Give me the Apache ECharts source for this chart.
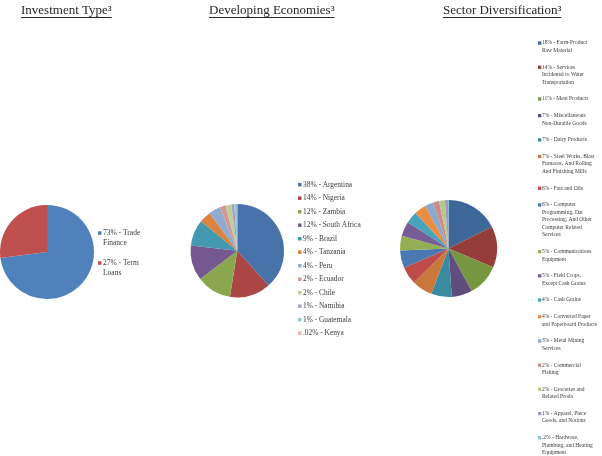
<!DOCTYPE html>
<html><head><meta charset="utf-8">
<script src="https://cdn.jsdelivr.net/npm/echarts@6/dist/echarts.min.js"></script>
<style>html,body{margin:0;padding:0;background:#fff}#c{width:602px;height:456px}</style>
</head><body><div id="c"></div>
<script>
// ---- data ----
const titles = ['Investment Type\u00B3', 'Developing Economies\u00B3', 'Sector Diversification\u00B3'];

const investNames = ['Trade\nFinance', 'Term\nLoans'];
const investPct = ['73%', '27%'];
const investValues = [73, 27];

const econNames = ['Argentina', 'Nigeria', 'Zambia', 'South Africa', 'Brazil', 'Tanzania', 'Peru', 'Ecuador', 'Chile', 'Namibia', 'Guatemala', 'Kenya'];
const econPct = ['38%', '14%', '12%', '12%', '9%', '4%', '4%', '2%', '2%', '1%', '1%', '.02%'];
const econValues = [38, 14, 12, 12, 9, 4, 4, 2, 2, 1, 1, 0.02];

const sectorNames = [
  'Farm-Product\nRaw Material',
  'Services\nIncidental to Water\nTransportation',
  'Meat Products',
  'Miscellaneous\nNon-Durable Goods',
  'Dairy Products',
  'Steel Works, Blast\nFurnaces, And Rolling\nAnd Finishing Mills',
  'Fats and Oils',
  'Computer\nProgramming, Dat\nProcessing, And Other\nComputer Related\nServices',
  'Communications\nEquipment',
  'Field Crops,\nExcept Cash Grains',
  'Cash Grains',
  'Converted Paper\nand Paperboard Products',
  'Metal Mining\nServices',
  'Commercial\nFishing',
  'Groceries and\nRelated Proda',
  'Apparel, Piece\nGoods, and Notions',
  'Hardware,\nPlumbing, and Heating\nEquipment'
];
const sectorPct = ['18%', '14%', '11%', '7%', '7%', '7%', '6%', '6%', '5%', '5%', '4%', '4%', '3%', '2%', '2%', '1%', '.2%'];
const sectorValues = [18, 14, 11, 7, 7, 7, 6, 6, 5, 5, 4, 4, 3, 2, 2, 1, 0.2];

// ---- styles ----
const investColors = ['#4F81BD', '#C0504D'];
const econColors = ['#4773AA', '#AA4744', '#8AA74F', '#73598F', '#4399AF', '#DB843D', '#93AAD0', '#D39795', '#BCD098', '#AB9DC0', '#95C7DA', '#E8B4B2'];
const sectorColors = ['#3E6799', '#953D3A', '#78953F', '#614C7E', '#3A8AA0', '#C9773A',
  '#BE4D4A', '#4A78B3', '#92AF55', '#775E97', '#48A4BD', '#EA8D43',
  '#8CA8CE', '#CD8A88', '#B4CA8D', '#A595BA', '#8AC4D7'];

const SERIF = '"Liberation Serif", "Times New Roman", serif';
const TXT = '#3a3a3a';

function makeData(names, pct, values, colors) {
  return names.map((n, i) => ({ name: pct[i] + ' - ' + n, value: values[i], itemStyle: { color: colors[i] } }));
}
const investData = makeData(investNames, investPct, investValues, investColors);
const econData = makeData(econNames, econPct, econValues, econColors);
const sectorData = makeData(sectorNames, sectorPct, sectorValues, sectorColors);

function makeLegend(data, colors, cfg) {
  const names = data.map(d => d.name);
  const rich = {
    t: { fontFamily: SERIF, fontSize: cfg.fs, color: TXT, lineHeight: cfg.lh, padding: [0, 0, 0, cfg.gap] },
    i: { width: cfg.ms, height: 1, lineHeight: cfg.lh }
  };
  colors.forEach((c, k) => { rich['m' + k] = { width: cfg.ms, height: cfg.ms, backgroundColor: c, lineHeight: cfg.lh }; });
  return {
    orient: 'vertical', left: cfg.left, top: cfg.top, height: 600, padding: 0,
    itemGap: cfg.itemGap, itemWidth: 0, itemHeight: 2, icon: 'none',
    selectedMode: false, data: names,
    textStyle: { fontFamily: SERIF, fontSize: cfg.fs, color: TXT, lineHeight: cfg.lh, rich: rich },
    formatter: function (name) {
      const idx = names.indexOf(name);
      return name.split('\n').map((l, j) => (j === 0 ? '{m' + idx + '|}' : '{i|}') + '{t|' + l + '}').join('\n');
    }
  };
}

// measure title widths for underline
const mctx = document.createElement('canvas').getContext('2d');
mctx.font = '13px "Liberation Serif"';
const titleLefts = [21, 209, 443];
const titleTop = 4;
const underlineY = 17.5;

const option = {
  animation: false,
  backgroundColor: '#ffffff',
  title: titles.map((t, i) => ({
    text: t, left: titleLefts[i], top: titleTop, padding: 0,
    textStyle: { fontFamily: SERIF, fontSize: 13, fontWeight: 'normal', color: '#262626' }
  })),
  graphic: titles.map((t, i) => ({
    type: 'line', silent: true,
    shape: { x1: titleLefts[i], y1: underlineY, x2: titleLefts[i] + mctx.measureText(t).width, y2: underlineY },
    style: { stroke: '#262626', lineWidth: 1 }
  })),
  legend: [
    makeLegend(investData, investColors, { left: 93, top: 228.3, fs: 7.5, lh: 9.5, itemGap: 11, ms: 3.5, gap: 1.5 }),
    makeLegend(econData, econColors, { left: 293, top: 180.4, fs: 7.4, lh: 8.6, itemGap: 4.9, ms: 3.5, gap: 1.5 }),
    makeLegend(sectorData, sectorColors, { left: 533, top: 39.3, fs: 5.5, lh: 7.5, itemGap: 9.2, ms: 3.3, gap: 0.6 })
  ],
  series: [
    { type: 'pie', center: [47, 252], radius: 47, startAngle: 90, clockwise: true, label: { show: false }, labelLine: { show: false },
      itemStyle: { borderWidth: 0 }, emphasis: { disabled: true }, data: investData },
    { type: 'pie', center: [237.3, 250.7], radius: 46.7, startAngle: 90, clockwise: true, label: { show: false }, labelLine: { show: false },
      itemStyle: { borderWidth: 0 }, emphasis: { disabled: true }, data: econData, minAngle: 0 },
    { type: 'pie', center: [448.5, 248.5], radius: 48.5, startAngle: 90, clockwise: true, label: { show: false }, labelLine: { show: false },
      itemStyle: { borderWidth: 0 }, emphasis: { disabled: true }, data: sectorData }
  ]
};

const chart = echarts.init(document.getElementById('c'), null, { renderer: 'canvas' });
chart.setOption(option);
</script>
</body></html>
